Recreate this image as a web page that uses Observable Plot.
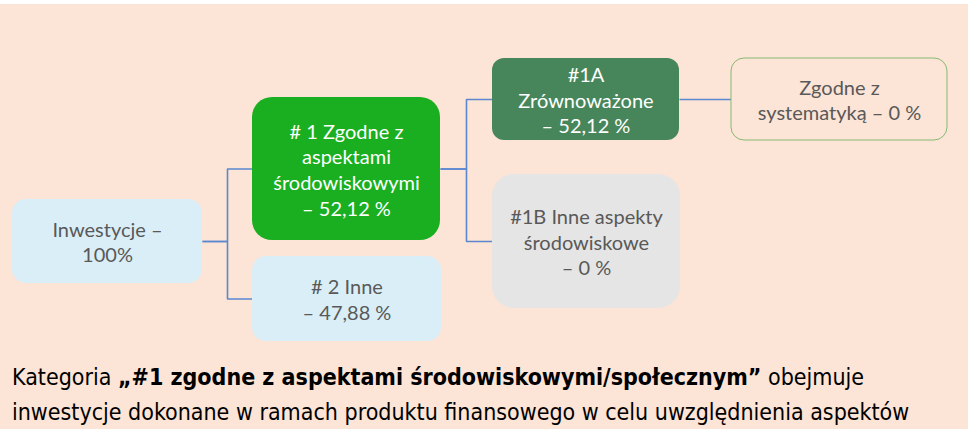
<!DOCTYPE html>
<html><head><meta charset="utf-8">
<script src="https://cdn.jsdelivr.net/npm/d3@7"></script>
<script src="https://cdn.jsdelivr.net/npm/@observablehq/plot@0.6"></script>
<style>
html,body{margin:0;padding:0;background:#fff;}
#wrap{margin-top:4px;background:#FCE4D6;width:968px;height:425px;overflow:hidden;position:relative}
#chart svg{display:block;background:transparent}
#caption{position:absolute;left:12px;top:356px;font-family:"DejaVu Sans Condensed","DejaVu Sans",sans-serif;font-size:23px;line-height:35px;color:#000;white-space:nowrap}
#caption b{font-weight:bold}
</style></head>
<body><div id="wrap"><div id="chart"></div><div id="caption"></div></div>
<script>
// ---- data ----
const ids     = ["root", "n1", "n2", "n1A", "n1B", "tax"];
const parents = [null, "root", "root", "n1", "n1", "n1A"];
const labels  = [
  "Inwestycje –\n100%",
  "# 1 Zgodne z\naspektami\nśrodowiskowymi\n– 52,12 %",
  "# 2 Inne\n– 47,88 %",
  "#1A\nZrównoważone\n– 52,12 %",
  "#1B Inne aspekty\nśrodowiskowe\n– 0 %",
  "Zgodne z\nsystematyką – 0 %"
];
const shares  = [100, 52.12, 47.88, 52.12, 0, 0];
const captionLine1 = ["Kategoria ", "„#1 zgodne z aspektami środowiskowymi/społecznym”", " obejmuje"];
const captionLine2 = "inwestycje dokonane w ramach produktu finansowego w celu uwzględnienia aspektów";

// ---- layout (box geometry, page pixels) ----
const layout = {
  root: {x0: 12,  x1: 202, y0: 199, y1: 283, r: 14},
  n1:   {x0: 252, x1: 440, y0: 97,  y1: 240, r: 20},
  n2:   {x0: 252, x1: 441, y0: 256, y1: 341, r: 14},
  n1A:  {x0: 492, x1: 679, y0: 58,  y1: 140, r: 12},
  n1B:  {x0: 492, x1: 680, y0: 174, y1: 308, r: 22},
  tax:  {x0: 731, x1: 947, y0: 58,  y1: 140, r: 13}
};
// ---- styles ----
const styles = {
  root: {fill: "#DAEEF7", stroke: "none", text: "#595959"},
  n1:   {fill: "#19AF20", stroke: "none", text: "#FFFFFF"},
  n2:   {fill: "#DAEEF7", stroke: "none", text: "#595959"},
  n1A:  {fill: "#47865A", stroke: "none", text: "#FFFFFF"},
  n1B:  {fill: "#E5E5E5", stroke: "none", text: "#595959"},
  tax:  {fill: "#FCE4D6", stroke: "#86BA72", text: "#595959"}
};

const nodes = ids.map((id, i) => {
  const g = layout[id];
  return {id, parent: parents[i], label: labels[i], share: shares[i],
    x0: g.x0, x1: g.x1, y0: g.y0, y1: g.y1, r: g.r,
    cx: (g.x0 + g.x1) / 2, cy: (g.y0 + g.y1) / 2, ...styles[id]};
});
const byId = new Map(nodes.map(d => [d.id, d]));
const links = nodes.filter(d => d.parent).map(d => {
  const p = byId.get(d.parent);
  return {px: p.x1, py: p.cy, cx: d.x0, cy: d.cy};
});

const H = 350, TOP = 4;
const marks = [
  Plot.link(links, {x1: "px", y1: "py", x2: "cx", y2: "cy", curve: "step", stroke: "#5B87CF", strokeWidth: 1.6})
];
for (const d of nodes) {
  marks.push(Plot.rect([d], {x1: "x0", x2: "x1", y1: "y0", y2: "y1", rx: d.r, fill: d.fill,
    stroke: d.stroke === "none" ? null : d.stroke, strokeWidth: 1}));
}
for (const d of nodes) {
  marks.push(Plot.text([d], {x: "cx", y: "cy", text: "label", fill: d.text, fontSize: 20,
    lineHeight: 1.28, fontFamily: "Lato", textAnchor: "middle", lineAnchor: "middle"}));
}

const chart = Plot.plot({
  width: 968, height: H,
  margin: 0,
  x: {type: "linear", domain: [0, 968], range: [0, 968], axis: null},
  y: {type: "linear", domain: [TOP, TOP + H], range: [0, H], axis: null},
  style: {background: "transparent", overflow: "visible"},
  marks
});
document.getElementById("chart").appendChild(chart);

const cap = document.getElementById("caption");
cap.innerHTML = "";
cap.append(captionLine1[0]);
const b = document.createElement("b"); b.textContent = captionLine1[1]; cap.append(b);
cap.append(captionLine1[2]);
cap.append(document.createElement("br"));
cap.append(captionLine2);
</script>
</body></html>
